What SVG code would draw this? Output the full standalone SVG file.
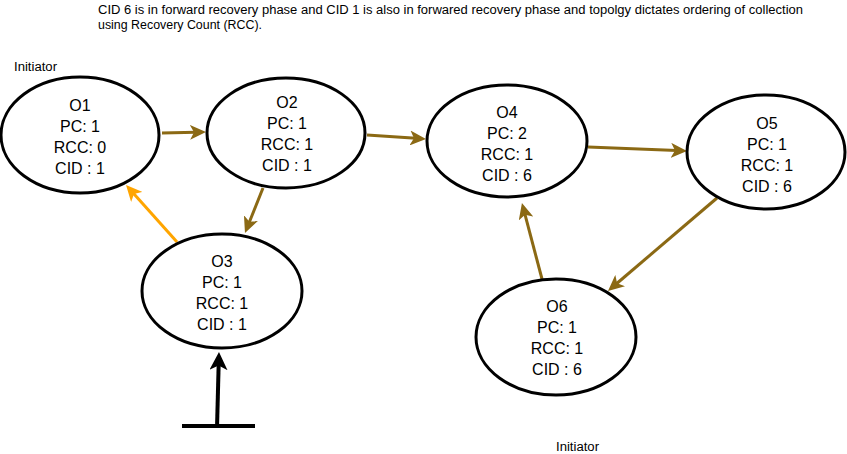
<svg xmlns="http://www.w3.org/2000/svg" width="847" height="454" viewBox="0 0 847 454">
<defs>
<style>
.node ellipse{fill:#fff;stroke:#000;stroke-width:3}
.node text{font-family:"Liberation Sans",Arial,sans-serif;font-size:16px;fill:#000;text-anchor:middle}
.lbl{font-family:"Liberation Sans",Arial,sans-serif;font-size:12px;fill:#000}
.brown{stroke:#8B6914;stroke-width:3;fill:none}
.orange{stroke:#FFA500;stroke-width:3;fill:none}
.black{stroke:#000;stroke-width:4;fill:none}
</style>
<marker id="hb" viewBox="0 0 16 15" refX="6" refY="7.5" markerWidth="16" markerHeight="15" markerUnits="userSpaceOnUse" orient="auto"><path d="M0,0 L16,7.5 L0,15 L4,7.5 Z" fill="#8B6914"/></marker>
<marker id="ho" viewBox="0 0 16 15" refX="6" refY="7.5" markerWidth="16" markerHeight="15" markerUnits="userSpaceOnUse" orient="auto"><path d="M0,0 L16,7.5 L0,15 L4,7.5 Z" fill="#FFA500"/></marker>
<marker id="hk" viewBox="0 0 18 18" refX="7" refY="9" markerWidth="18" markerHeight="18" markerUnits="userSpaceOnUse" orient="auto"><path d="M0,0 L18,9 L0,18 L4.5,9 Z" fill="#000"/></marker>
</defs>
<rect width="847" height="454" fill="#fff"/>
<text class="lbl" x="98" y="14" textLength="705" lengthAdjust="spacingAndGlyphs">CID 6 is in forward recovery phase and CID 1 is also in forwared recovery phase and topolgy dictates ordering of collection</text>
<text class="lbl" x="98" y="29" textLength="164" lengthAdjust="spacingAndGlyphs">using Recovery Count (RCC).</text>
<text class="lbl" x="14" y="71" textLength="43" lengthAdjust="spacingAndGlyphs">Initiator</text>
<text class="lbl" x="556" y="451" textLength="43" lengthAdjust="spacingAndGlyphs">Initiator</text>
<g id="connectors">
<path class="brown" d="M162,133 L196,132.2" marker-end="url(#hb)"/>
<path class="brown" d="M263,188 L248.7,223.7" marker-end="url(#hb)"/>
<path class="orange" d="M177,242 L132.7,192.5" marker-end="url(#ho)"/>
<path class="brown" d="M367,135 L416,138.3" marker-end="url(#hb)"/>
<path class="brown" d="M588,147 L677,150.6" marker-end="url(#hb)"/>
<path class="brown" d="M717,198 L615.6,284.5" marker-end="url(#hb)"/>
<path class="brown" d="M542,279 L524.5,212.7" marker-end="url(#hb)"/>
<path class="black" d="M217,428 L218.7,363" marker-end="url(#hk)"/>
<path class="black" d="M182,426 L255,426"/>
</g>
<g id="O1" class="node"><ellipse cx="80" cy="135" rx="79" ry="58"/><text x="80" y="111">O1</text><text x="80" y="132">PC: 1</text><text x="80" y="153">RCC: 0</text><text x="80" y="174">CID : 1</text></g>
<g id="O2" class="node"><ellipse cx="286" cy="133" rx="79" ry="55"/><text x="287" y="108">O2</text><text x="287" y="129">PC: 1</text><text x="287" y="150">RCC: 1</text><text x="287" y="171">CID : 1</text></g>
<g id="O3" class="node"><ellipse cx="222" cy="291" rx="80" ry="57"/><text x="222" y="267">O3</text><text x="222" y="288">PC: 1</text><text x="222" y="309">RCC: 1</text><text x="222" y="330">CID : 1</text></g>
<g id="O4" class="node"><ellipse cx="507" cy="141" rx="80" ry="56"/><text x="507" y="118">O4</text><text x="507" y="139">PC: 2</text><text x="507" y="160">RCC: 1</text><text x="507" y="181">CID : 6</text></g>
<g id="O5" class="node"><ellipse cx="766" cy="152" rx="79" ry="57"/><text x="767" y="129">O5</text><text x="767" y="150">PC: 1</text><text x="767" y="171">RCC: 1</text><text x="767" y="192">CID : 6</text></g>
<g id="O6" class="node"><ellipse cx="556" cy="337" rx="80" ry="58"/><text x="557" y="312">O6</text><text x="557" y="333">PC: 1</text><text x="557" y="354">RCC: 1</text><text x="557" y="375">CID : 6</text></g>
</svg>
